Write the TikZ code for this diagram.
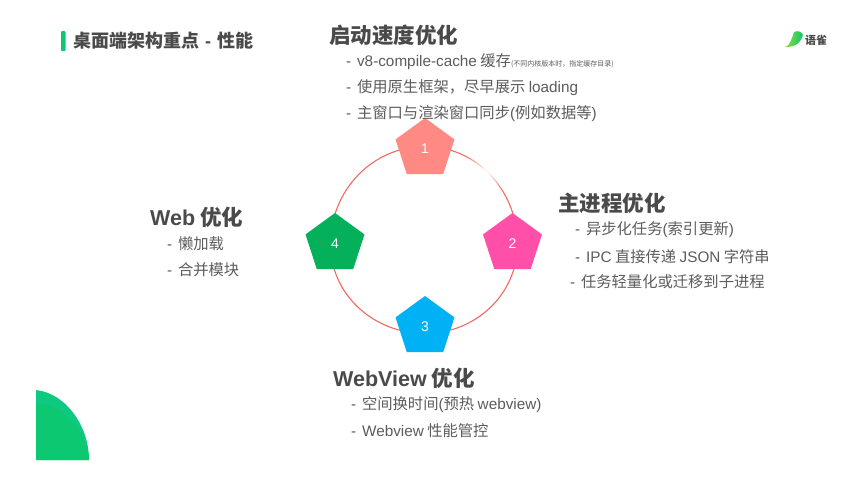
\documentclass[tikz,border=0pt]{standalone}
\usepackage{fontspec}
\setmainfont{Noto Sans CJK SC}
\newfontfamily\la{Liberation Sans}
\usetikzlibrary{shapes.geometric,fadings,backgrounds}
\tikzfading[name=softspot,inner color=transparent!0,outer color=transparent!100]
\newcommand\dd{{\la -}\hspace{5.8pt}}
\definecolor{inkdark}{HTML}{4A4A4A}
\definecolor{inksoft}{HTML}{5C5C5C}
\definecolor{ring}{HTML}{EE6A60}
\definecolor{brand}{HTML}{0CC870}
\definecolor{brandtop}{HTML}{0DCA80}
\definecolor{leaf}{HTML}{8EDB3A}
\definecolor{stageone}{HTML}{FF8A84}
\definecolor{stagetwo}{HTML}{FF4FA8}
\definecolor{stagethree}{HTML}{00B2F5}
\definecolor{stagefour}{HTML}{05B05A}
\tikzset{
  penta/.style={regular polygon,regular polygon sides=5,minimum size=62pt,inner sep=0pt,outer sep=0pt,
    text=white,font=\la\fontsize{14}{16}\selectfont},
  heading/.style={anchor=west,inner sep=0pt,text=inkdark,font=\fontsize{21.5}{24}\selectfont\bfseries},
  item/.style={anchor=west,inner sep=0pt,text=inksoft,font=\fontsize{15.3}{18}\selectfont},
  arcline/.style={draw=ring,line width=1.1pt}
}
\begin{document}
\begin{tikzpicture}[x=1pt,y=-1pt]
\useasboundingbox (0,0) rectangle (855,493);

% slide furniture
\fill[brand,rounded corners=1pt] (61,31) rectangle (65.5,51);
\node[anchor=west,inner sep=0pt,text=inkdark,font=\fontsize{18}{20}\selectfont\bfseries] (title) at (73,41) {桌面端架构重点\hspace{6pt}{\la -}\hspace{6pt}性能};
\fill[brandtop] (36,390) .. controls (65,393) and (89,425) .. (89,460) -- (36,460) -- cycle;
\fill[brand] (36,404) .. controls (60,402) and (88,430) .. (89,460) -- (36,460) -- cycle;
\shade[left color=leaf,right color=brand] (785,47) .. controls (790,46) and (792,38) .. (794,32)
  .. controls (798,30) and (802,32) .. (803,35) .. controls (801,42) and (797,47) .. (785,47) -- cycle;
\node[anchor=west,inner sep=0pt,text=inkdark,font=\fontsize{11}{13}\selectfont\bfseries] (logo) at (805,40) {语雀};

% the four stages
\node[penta,fill=stageone] (p1) at (425,149) {1};
\node[penta,fill=stagetwo] (p2) at (512.5,244) {2};
\node[penta,fill=stagethree] (p3) at (425,327) {3};
\node[penta,fill=stagefour] (p4) at (335,244) {4};

% ring joining the stages, passing behind them
\begin{pgfonlayer}{background}
\fill[white] (0,0) rectangle (855,493);
\draw[arcline] ([yshift=2.5pt]p1.center) to[out=0,in=90] ([xshift=5pt]p2.center);
\draw[arcline] ([xshift=5pt]p2.center) to[out=-90,in=0] ([yshift=-6.5pt]p3.center);
\draw[arcline] ([yshift=-6.5pt]p3.center) to[out=180,in=-90] ([xshift=-4.5pt]p4.center);
\draw[arcline] ([xshift=-4.5pt]p4.center) to[out=90,in=180] ([yshift=2.5pt]p1.center);
\fill[white,path fading=softspot] (487,170) circle (26);
\end{pgfonlayer}

% startup
\node[heading] (h1) at (329,35) {启动速度优化};
\node[item] (a1) at (346,62) {\dd{\la v8-compile-cache} 缓存{\fontsize{7}{8}\selectfont (不同内核版本时，指定缓存目录)}};
\node[item] (a2) at (346,88) {\dd 使用原生框架，尽早展示 {\la loading}};
\node[item] (a3) at (346,114) {\dd 主窗口与渲染窗口同步{\la (}例如数据等{\la )}};

% main process
\node[heading] (h2) at (558,203) {主进程优化};
\node[item] (b1) at (575,230) {\dd 异步化任务{\la (}索引更新{\la )}};
\node[item] (b2) at (575,257) {\dd{\la IPC} 直接传递 {\la JSON} 字符串};
\node[item] (b3) at (570,282) {\dd 任务轻量化或迁移到子进程};

% web
\node[heading] (h4) at (150,217) {{\la Web} 优化};
\node[item] (d1) at (167,244) {\dd 懒加载};
\node[item] (d2) at (167,270) {\dd 合并模块};

% webview
\node[heading] (h3) at (333,378) {{\la WebView} 优化};
\node[item] (c1) at (351,405) {\dd 空间换时间{\la (}预热 {\la webview)}};
\node[item] (c2) at (351,431) {\dd{\la Webview} 性能管控};
\end{tikzpicture}
\end{document}
